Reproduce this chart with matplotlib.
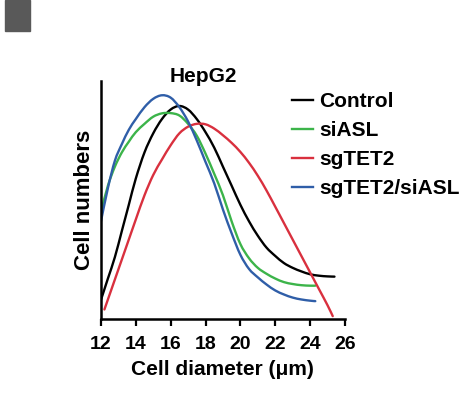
import matplotlib
matplotlib.use("Agg")
import matplotlib.pyplot as plt
from matplotlib.patches import Rectangle, PathPatch
from matplotlib.path import Path
from matplotlib.lines import Line2D

plt.rcParams['font.family'] = ['Liberation Sans', 'DejaVu Sans']
plt.rcParams['font.weight'] = 'bold'

# values (y in arbitrary units, axis top = 100)
ctrl_x = [12.0, 12.4, 12.8, 13.2, 13.6, 14.0, 14.5, 15.0, 15.5, 16.0, 16.5, 17.0, 17.5, 18.0,
          18.5, 19.0, 19.5, 20.0, 20.5, 21.0, 21.5, 22.0, 22.5, 23.0, 23.5, 24.0, 24.5, 25.0, 25.4]
ctrl_y = [8, 17, 26, 37, 48, 59, 70, 78, 84, 88, 89.5, 88, 84, 78.5, 72, 64, 56, 48, 41, 35,
          30, 26.5, 23.5, 21.5, 20, 18.8, 18.2, 17.9, 17.8]

siasl_x = [12.0, 12.4, 12.8, 13.2, 13.6, 14.0, 14.5, 15.0, 15.5, 16.0, 16.5, 17.0, 17.5, 18.0,
           18.5, 19.0, 19.5, 20.0, 20.5, 21.0, 21.5, 22.0, 22.5, 23.0, 23.5, 24.0, 24.3]
siasl_y = [45, 56, 64, 70, 74.5, 78.5, 82, 85, 86.4, 86.5, 85.5, 82, 77, 69.5, 61, 52, 41,
           31.5, 25.5, 21.5, 19, 17, 15.5, 14.7, 14.2, 14, 14]

sgtet2_x = [12.2, 12.6, 13.0, 13.5, 14.0, 14.5, 15.0, 15.5, 16.0, 16.5, 17.0, 17.5, 18.0, 18.5,
            19.0, 19.5, 20.0, 20.5, 21.0, 21.5, 22.0, 22.5, 23.0, 23.5, 24.0, 24.5, 25.0, 25.3]
sgtet2_y = [4, 12.4, 20.8, 31.3, 41.8, 52, 60.5, 67, 73, 78, 80.8, 82, 81.8, 80, 77.2, 74,
            70.2, 65.6, 60.2, 54, 47.2, 40.3, 33.4, 26.5, 19.6, 12.7, 5.8, 1.2]

both_x = [12.0, 12.4, 12.8, 13.2, 13.6, 14.0, 14.5, 15.0, 15.5, 16.0, 16.5, 17.0, 17.5, 18.0,
          18.5, 19.0, 19.5, 20.0, 20.5, 21.0, 21.5, 22.0, 22.5, 23.0, 23.5, 24.0, 24.3]
both_y = [41, 55, 66.5, 73.5, 79.5, 84, 89, 92.5, 94, 93, 89, 83, 75, 66, 57, 46, 36, 27, 21,
          17.5, 14.5, 12, 10.3, 9, 8.2, 7.7, 7.5]

labels = ['Control', 'siASL', 'sgTET2', 'sgTET2/siASL']
colors = ['#000000', '#3cb44a', '#d9303e', '#2f5ea8']
xticks = [12, 14, 16, 18, 20, 22, 24, 26]


def smooth_path(xs, ys):
    # catmull-rom through the read points, drawn as cubic bezier segments
    pts = list(zip(xs, ys))
    verts = [pts[0]]
    codes = [Path.MOVETO]
    for i in range(len(pts) - 1):
        p0 = pts[i - 1] if i > 0 else pts[i]
        p1 = pts[i]
        p2 = pts[i + 1]
        p3 = pts[i + 2] if i + 2 < len(pts) else pts[i + 1]
        c1 = (p1[0] + (p2[0] - p0[0]) / 6, p1[1] + (p2[1] - p0[1]) / 6)
        c2 = (p2[0] - (p3[0] - p1[0]) / 6, p2[1] - (p3[1] - p1[1]) / 6)
        verts += [c1, c2, p2]
        codes += [Path.CURVE4] * 3
    return Path(verts, codes)


fig = plt.figure(figsize=(4.63, 3.98), dpi=100)
ax = fig.add_axes([0.218, 0.1985, 0.527, 0.598])

series = [(ctrl_x, ctrl_y), (siasl_x, siasl_y), (sgtet2_x, sgtet2_y), (both_x, both_y)]
handles = []
for (xs, ys), c, lab in zip(series, colors, labels):
    ax.add_patch(PathPatch(smooth_path(xs, ys), facecolor='none', edgecolor=c, lw=1.7,
                           capstyle='round'))
    handles.append(Line2D([], [], color=c, lw=1.7, label=lab))

ax.set_xlim(12, 26)
ax.set_ylim(0, 100)
ax.set_xticks(xticks)
ax.set_xticklabels([str(t) for t in xticks], fontsize=14, fontweight='bold')
ax.set_yticks([])
ax.tick_params(axis='x', direction='out', length=5, width=1.6, pad=7)
for s in ['top', 'right']:
    ax.spines[s].set_visible(False)
for s in ['left', 'bottom']:
    ax.spines[s].set_linewidth(1.8)

ax.set_xlabel('Cell diameter (μm)', fontsize=15, fontweight='bold', labelpad=5)
ax.set_ylabel('Cell numbers', fontsize=16, fontweight='bold', labelpad=4)
fig.text(0.44, 0.807, 'HepG2', fontsize=15, fontweight='bold', ha='center', va='center')

leg = ax.legend(handles=handles, loc='upper left', bbox_to_anchor=(0.75, 0.987), frameon=False,
                fontsize=15, handlelength=1.0, handletextpad=0.3, labelspacing=0.48,
                borderaxespad=0)
for t in leg.get_texts():
    t.set_fontweight('bold')

fig.patches.append(Rectangle((5 / 463, 1 - 31 / 398), 25 / 463, 31 / 398,
                             transform=fig.transFigure, color='#595959', zorder=0))

fig.savefig('out.png', dpi=100)
